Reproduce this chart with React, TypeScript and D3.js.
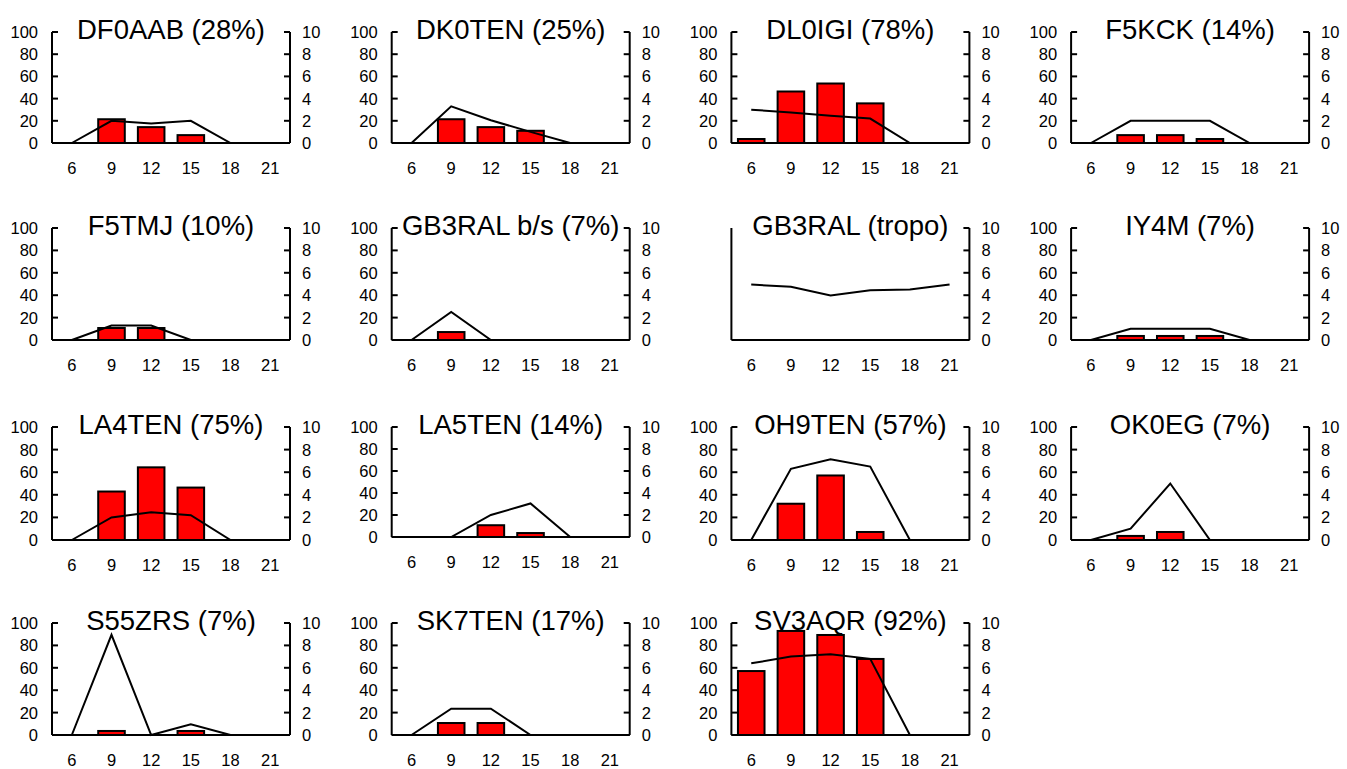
import React from 'react';
import * as d3 from 'd3';

// hours of the day (UTC) on the x axis
const hours = ['6', '9', '12', '15', '18', '21'];

const titles = [
  'DF0AAB (28%)', 'DK0TEN (25%)', 'DL0IGI (78%)', 'F5KCK (14%)',
  'F5TMJ (10%)', 'GB3RAL b/s (7%)', 'GB3RAL (tropo)', 'IY4M (7%)',
  'LA4TEN (75%)', 'LA5TEN (14%)', 'OH9TEN (57%)', 'OK0EG (7%)',
  'S55ZRS (7%)', 'SK7TEN (17%)', 'SV3AQR (92%)',
];

// % of days heard (left axis, bars); null = no bars for that beacon
const heardPct: (number[] | null)[] = [
  [0, 21.4, 14.3, 7.1, 0, 0],
  [0, 21.4, 14.3, 11, 0, 0],
  [3.6, 46.4, 53.6, 35.7, 0, 0],
  [0, 7.1, 7.1, 3.6, 0, 0],
  [0, 10.7, 10.7, 0, 0, 0],
  [0, 7.1, 0, 0, 0, 0],
  null,
  [0, 3.6, 3.6, 3.6, 0, 0],
  [0, 42.9, 64.3, 46.4, 0, 0],
  [0, 0, 10.7, 3.6, 0, 0],
  [0, 32.1, 57.1, 7.1, 0, 0],
  [0, 3.6, 7.1, 0, 0, 0],
  [0, 3.6, 0, 3.6, 0, 0],
  [0, 10.7, 10.7, 0, 0, 0],
  [57.1, 92.9, 89.3, 67.9, 0, 0],
];

// average signal strength (right axis, line)
const signal: number[][] = [
  [0, 2.0, 1.75, 2.0, 0, 0],
  [0, 3.3, 2.05, 1.0, 0, 0],
  [3.0, 2.75, 2.45, 2.2, 0, 0],
  [0, 2, 2, 2, 0, 0],
  [0, 1.3, 1.3, 0, 0, 0],
  [0, 2.5, 0, 0, 0, 0],
  [4.95, 4.75, 3.97, 4.45, 4.5, 4.95],
  [0, 1, 1, 1, 0, 0],
  [0, 2.0, 2.45, 2.2, 0, 0],
  [0, 0, 2.0, 3.05, 0, 0],
  [0, 6.3, 7.15, 6.5, 0, 0],
  [0, 1.0, 5.0, 0, 0, 0],
  [0, 8.95, 0, 0.95, 0, 0],
  [0, 2.35, 2.35, 0, 0, 0],
  [6.4, 7.0, 7.2, 6.8, 0, 0],
];

const leftTicks = [0, 20, 40, 60, 80, 100];
const rightTicks = [0, 2, 4, 6, 8, 10];

const rowTop = [32, 228, 427, 623];
const rowBottom = [143, 340, 540, 735];
const font = '"Liberation Sans", Arial, sans-serif';
const tickSize = 16.5;

function Panel({ idx }: { idx: number }) {
  const col = idx % 4;
  const row = Math.floor(idx / 4);
  const left = 52 + col * 339.7;
  const right = left + 238;
  const top = rowTop[row];
  const bottom = rowBottom[row] - (titles[idx].startsWith('LA5TEN') ? 3 : 0);
  const bars = heardPct[idx];

  const x = d3.scaleBand().domain(hours).range([left, right]);
  const bw = x.bandwidth();
  const cx = (h: string) => (x(h) as number) + bw / 2;
  const yL = d3.scaleLinear().domain([0, 100]).range([bottom, top]);
  const yR = d3.scaleLinear().domain([0, 10]).range([bottom, top]);
  const line = d3.line<number>().x((_, i) => cx(hours[i])).y(d => yR(d));
  const barW = bw * 0.67;

  return (
    <g>
      <text x={(left + right) / 2} y={top + 7} textAnchor="middle" fontSize={27.5} fontFamily={font} fill="#000">
        {titles[idx]}
      </text>
      {bars && bars.map((v, i) => v > 0 && (
        <rect key={i} x={cx(hours[i]) - barW / 2} y={yL(v)} width={barW} height={yL(0) - yL(v)}
          fill="#ff0000" stroke="#000" strokeWidth={2} />
      ))}
      {/* left axis */}
      <line x1={left} x2={left} y1={top} y2={bottom} stroke="#000" strokeWidth={2} />
      {bars && leftTicks.map(t => (
        <g key={t}>
          <line x1={left} x2={left + 6} y1={yL(t)} y2={yL(t)} stroke="#000" strokeWidth={2} />
          <text x={left - 14} y={yL(t)} dy="0.36em" textAnchor="end" fontSize={tickSize} fontFamily={font}>{t}</text>
        </g>
      ))}
      {/* right axis */}
      <line x1={right} x2={right} y1={top} y2={bottom} stroke="#000" strokeWidth={2} />
      {rightTicks.map(t => (
        <g key={t}>
          <line x1={right - 6} x2={right} y1={yR(t)} y2={yR(t)} stroke="#000" strokeWidth={2} />
          <text x={right + 12} y={yR(t)} dy="0.36em" textAnchor="start" fontSize={tickSize} fontFamily={font}>{t}</text>
        </g>
      ))}
      {/* x axis */}
      <line x1={left} x2={right} y1={bottom} y2={bottom} stroke="#000" strokeWidth={2} />
      {hours.map(h => (
        <text key={h} x={cx(h)} y={bottom + 31} textAnchor="middle" fontSize={tickSize} fontFamily={font}>{h}</text>
      ))}
      <path d={line(signal[idx]) || ''} fill="none" stroke="#000" strokeWidth={2} strokeLinejoin="miter" />
    </g>
  );
}

export default function App() {
  return (
    <svg width={1347} height={769} style={{ position: 'absolute', left: 0, top: 0, background: '#fff' }}>
      <rect width={1347} height={769} fill="#fff" />
      {titles.map((_, i) => <Panel key={i} idx={i} />)}
    </svg>
  );
}
